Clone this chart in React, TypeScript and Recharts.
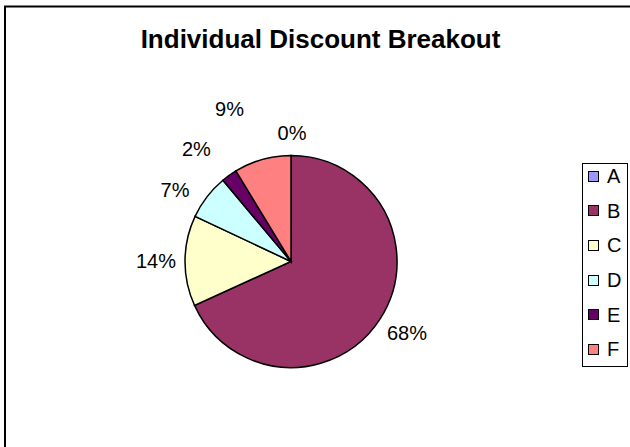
import React from "react";
import { PieChart, Pie, Cell, Legend } from "recharts";

const categories = ["A", "B", "C", "D", "E", "F"];
const values = [0, 68.2, 13.8, 6.9, 2.4, 8.7];
const colors = ["#9999FF", "#993366", "#FFFFCC", "#CCFFFF", "#660066", "#FF8080"];
const title = "Individual Discount Breakout";

const data = categories.map((name, i) => ({ name, value: values[i] }));

const FONT = "Arial, 'Liberation Sans', Helvetica, sans-serif";
const RAD = Math.PI / 180;
const LABEL_R = 135;
// small per-label nudges mimicking Excel's "best fit" placement
const labelNudge: Record<string, [number, number]> = {
  A: [1, 6],
  B: [2.5, -2],
  C: [0, 0],
  D: [-9, 11],
  E: [-16, -2.5],
  F: [-25, -23],
};

const renderLabel = (props: any) => {
  const { cx, cy, midAngle, percent, name } = props;
  const [nx, ny] = labelNudge[name] || [0, 0];
  const x = cx + LABEL_R * Math.cos(-midAngle * RAD) + nx;
  const y = cy + LABEL_R * Math.sin(-midAngle * RAD) + ny;
  return (
    <text
      x={x}
      y={y}
      textAnchor="middle"
      dominantBaseline="central"
      fontFamily={FONT}
      fontSize={20}
      fill="#000"
    >
      {`${Math.round(percent * 100)}%`}
    </text>
  );
};

const renderLegend = (props: any) => {
  const payload: any[] = props.payload && props.payload.length
    ? props.payload
    : categories.map((c, i) => ({ value: c, color: colors[i] }));
  return (
    <div
      style={{
        boxSizing: "border-box",
        width: 46,
        height: 204,
        border: "1px solid #000",
        background: "#fff",
        paddingLeft: 5,
        paddingTop: 0,
        fontFamily: FONT,
        fontSize: 20,
        color: "#000",
      }}
    >
      {payload.map((p: any, i: number) => (
        <div
          key={i}
          style={{
            display: "flex",
            alignItems: "center",
            height: 24,
            marginTop: i === 0 ? 0 : 10.7,
            lineHeight: "24px",
          }}
        >
          <span
            style={{
              display: "inline-block",
              boxSizing: "border-box",
              width: 11,
              height: 11,
              border: "1px solid #000",
              background: p.color,
              marginRight: 8,
            }}
          />
          <span>{p.value}</span>
        </div>
      ))}
    </div>
  );
};

export default function App() {
  return (
    <div style={{ position: "absolute", left: 0, top: 0, width: 630, height: 447, background: "#fff" }}>
      <PieChart width={630} height={447} margin={{ top: 0, right: 0, bottom: 0, left: 0 }}>
        <rect x={5} y={6.5} width={700} height={500} fill="none" stroke="#000" strokeWidth={2} />
        <text
          x={320.5}
          y={48}
          textAnchor="middle"
          fontFamily={FONT}
          fontSize={26}
          fontWeight="bold"
          fill="#000"
        >
          {title}
        </text>
        <Pie
          data={data}
          dataKey="value"
          nameKey="name"
          cx={291}
          cy={261.5}
          outerRadius={106}
          startAngle={90}
          endAngle={-270}
          stroke="#000"
          strokeWidth={1.5}
          label={renderLabel}
          labelLine={false}
          isAnimationActive={false}
        >
          {data.map((d, i) => (
            <Cell key={d.name} fill={colors[i]} stroke="#000" strokeWidth={1.5} />
          ))}
        </Pie>
        <Legend
          layout="vertical"
          align="right"
          verticalAlign="top"
          content={renderLegend}
          wrapperStyle={{ position: "absolute", left: 582, top: 163, width: 46, height: 204 }}
        />
      </PieChart>
    </div>
  );
}
